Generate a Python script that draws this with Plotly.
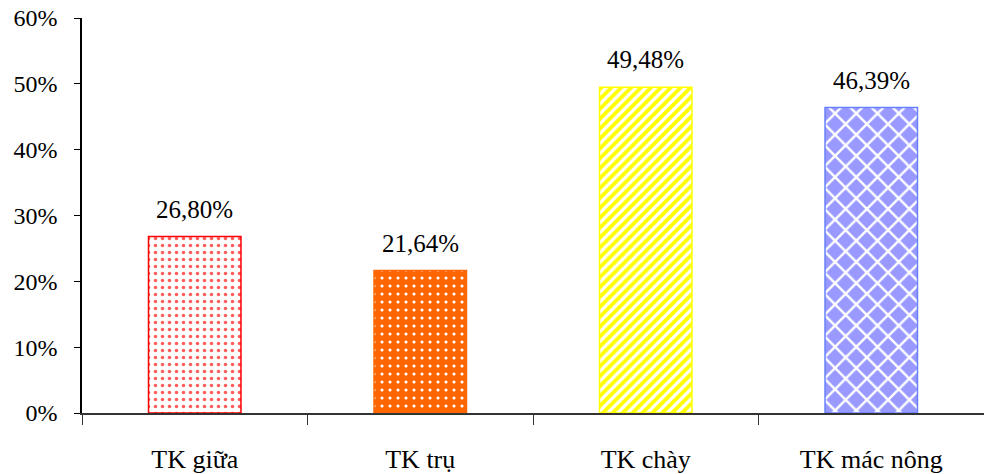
import plotly.graph_objects as go

# Share of each group (fraction)
categories = ["TK giữa", "TK trụ", "TK chày", "TK mác nông"]
shares = [0.2680, 0.2164, 0.4948, 0.4639]
tick_vals = [0, 0.1, 0.2, 0.3, 0.4, 0.5, 0.6]

# Per-bar fill styles
fills = [
    dict(bg="#ffffff", fg="#ff5c5c", shape=".", size=7, solidity=0.2, line="#ff0000"),
    dict(bg="#ff6600", fg="#ffffff", shape=".", size=8, solidity=0.12, line="#ff6600"),
    dict(bg="#ffff00", fg="#ffffff", shape="/", size=7, solidity=0.45, line="#ffff00"),
    dict(bg="#9999ff", fg="#ffffff", shape="x", size=15, solidity=0.3, line="#6680ff"),
]

FONT = "'Times New Roman', 'Liberation Serif', 'DejaVu Serif', serif"

fig = go.Figure()
for cat, val, st in zip(categories, shares, fills):
    fig.add_trace(go.Bar(
        x=[cat], y=[val], width=0.41,
        marker=dict(
            color=st["bg"],
            line=dict(color=st["line"], width=1.5),
            pattern=dict(shape=st["shape"], bgcolor=st["bg"], fgcolor=st["fg"],
                         fgopacity=1, size=st["size"], solidity=st["solidity"],
                         fillmode="overlay"),
        ),
        hoverinfo="skip", showlegend=False,
    ))
    fig.add_annotation(
        x=cat, y=val, text=f"{val * 100:.2f}%".replace(".", ","),
        showarrow=False, yanchor="bottom", yshift=12,
        font=dict(family=FONT, size=25, color="#000000"),
    )

fig.update_layout(
    width=984, height=474,
    margin=dict(l=82, r=0, t=18, b=58),
    paper_bgcolor="white", plot_bgcolor="white",
    bargap=0.59,
    separators=",.",
    font=dict(family=FONT, color="#000000"),
    xaxis=dict(
        type="category", tickson="boundaries", ticks="outside", ticklen=10,
        tickcolor="#333333", showline=True, linecolor="#333333", linewidth=1.5,
        showgrid=False, tickfont=dict(family=FONT, size=26, color="#000000"),
        ticklabelstandoff=22,
    ),
    yaxis=dict(
        range=[0, 0.6], tickvals=tick_vals, tickformat=".0%",
        ticks="outside", ticklen=6, tickcolor="#000000",
        showline=True, linecolor="#000000", linewidth=1.5,
        showgrid=False, zeroline=False,
        tickfont=dict(family=FONT, size=24, color="#000000"),
        ticklabelstandoff=12,
    ),
)

fig.write_html("out.html")
